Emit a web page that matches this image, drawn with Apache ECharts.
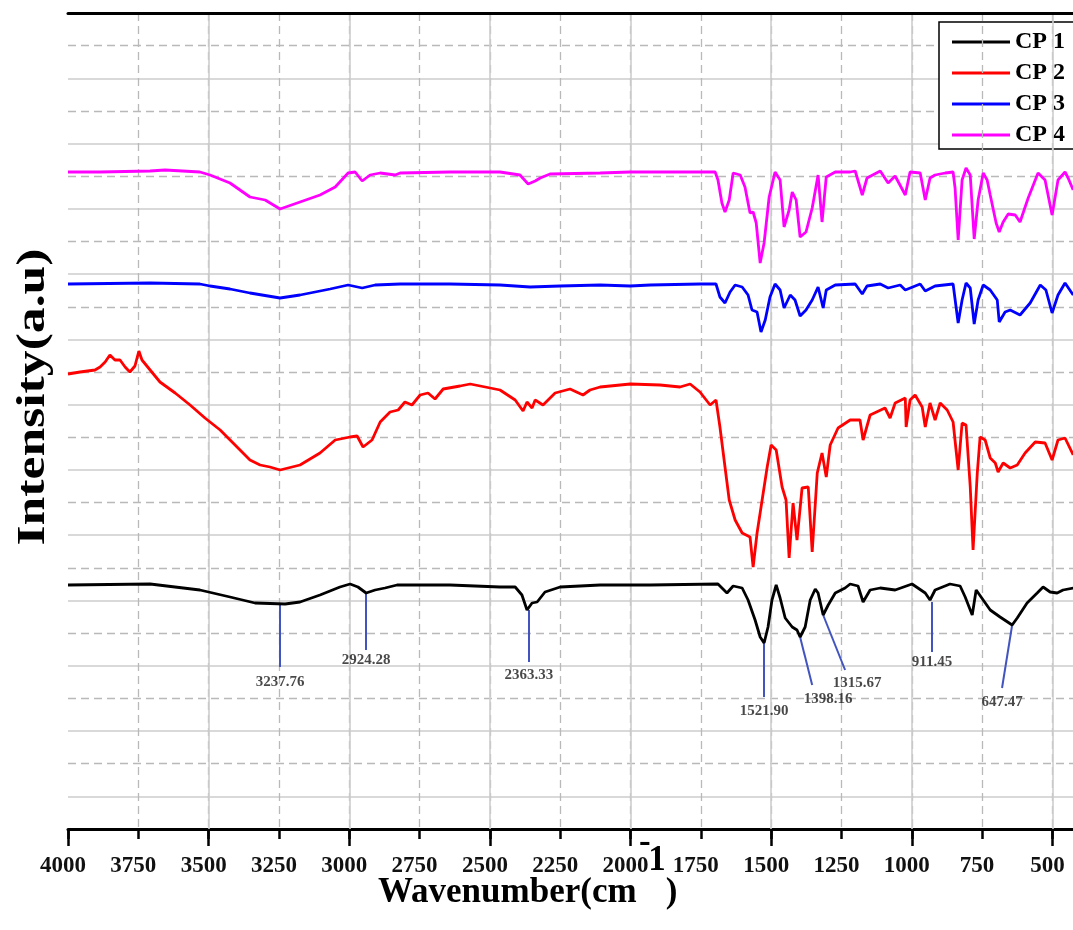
<!DOCTYPE html>
<html>
<head>
<meta charset="utf-8">
<script src="https://cdn.jsdelivr.net/npm/echarts@6/dist/echarts.min.js"></script>
<style>
  html, body { margin: 0; padding: 0; background: #fff; }
  #chart { width: 1073px; height: 930px; }
</style>
</head>
<body>
<div id="chart"></div>
<script>
// FTIR spectra of CP1..CP4, offset traces, intensity in arbitrary units.
const FONT = '"Liberation Serif", "Times New Roman", serif';

const seriesNames = ['CP 1', 'CP 2', 'CP 3', 'CP 4'];
const seriesColors = ['#000000', '#ff0000', '#0000ff', '#ff00ff'];

// [wavenumber, intensity]
const cp1 = [[4000,244],[3708,245],[3531,239],[3424,232],[3335,226],[3228,225],[3175,227],[3104,234],[3033,242],[2997,245],[2969,242],[2940,236],[2908,239],[2873,241],[2830,244],[2642,244],[2464,242],[2410,242],[2386,234],[2368,219],[2350,226],[2332,227],[2304,237],[2250,242],[2108,244],[1930,244],[1689,245],[1657,236],[1635,243],[1603,241],[1582,229],[1557,209],[1539,192],[1525,186],[1511,202],[1497,229],[1482,244],[1468,231],[1450,211],[1425,202],[1408,199],[1397,192],[1379,202],[1361,229],[1343,240],[1333,236],[1315,214],[1297,224],[1272,236],[1237,241],[1219,245],[1191,243],[1173,227],[1148,239],[1112,241],[1059,239],[999,245],[952,236],[935,229],[917,239],[864,245],[828,243],[810,232],[785,214],[771,239],[764,237],[721,219],[686,212],[643,204],[625,211],[590,226],[554,236],[533,242],[508,237],[483,236],[462,239],[426,241]];

const cp2 = [[4000,455],[3957,457],[3904,459],[3886,462],[3868,467],[3851,474],[3833,469],[3815,469],[3797,462],[3780,457],[3762,463],[3748,478],[3737,469],[3708,459],[3673,447],[3619,436],[3566,424],[3513,411],[3459,399],[3406,384],[3353,369],[3317,364],[3282,362],[3246,359],[3175,364],[3104,376],[3050,389],[2997,392],[2972,393],[2951,382],[2919,389],[2890,407],[2855,417],[2826,419],[2802,427],[2777,424],[2748,434],[2720,436],[2695,430],[2666,440],[2606,443],[2570,445],[2499,441],[2464,439],[2410,429],[2382,418],[2368,427],[2350,421],[2339,429],[2311,424],[2268,436],[2215,440],[2169,434],[2144,439],[2108,442],[2001,445],[1895,444],[1824,442],[1788,445],[1753,437],[1717,424],[1696,429],[1682,402],[1664,362],[1649,329],[1628,309],[1603,296],[1575,292],[1564,262],[1550,296],[1532,329],[1514,362],[1500,384],[1482,379],[1461,342],[1447,329],[1436,271],[1422,326],[1408,289],[1390,341],[1368,342],[1354,277],[1336,356],[1319,376],[1304,352],[1290,384],[1262,401],[1219,409],[1184,409],[1173,389],[1148,414],[1095,421],[1077,411],[1059,426],[1023,431],[1020,402],[1006,429],[988,434],[963,422],[952,402],[935,426],[917,409],[899,426],[874,419],[853,407],[835,359],[821,406],[807,404],[792,342],[782,279],[767,356],[757,392],[739,389],[721,371],[703,366],[693,357],[675,366],[650,361],[625,364],[597,376],[561,387],[526,386],[501,369],[480,389],[455,391],[426,374]];

const cp3 = [[4000,545],[3708,546],[3531,545],[3495,543],[3424,540],[3353,536],[3246,531],[3175,534],[3068,540],[3004,544],[2954,541],[2908,544],[2819,545],[2642,545],[2464,544],[2357,542],[2250,543],[2108,544],[2001,543],[1930,544],[1753,545],[1696,545],[1682,532],[1664,526],[1646,537],[1628,544],[1603,542],[1582,534],[1568,519],[1550,517],[1536,497],[1521,509],[1504,532],[1486,545],[1468,539],[1454,521],[1432,534],[1415,529],[1397,513],[1376,519],[1354,529],[1333,542],[1315,521],[1304,539],[1272,544],[1201,545],[1176,535],[1159,543],[1112,545],[1084,541],[1041,544],[1023,539],[970,545],[952,538],[917,543],[853,545],[835,506],[821,529],[807,546],[792,541],[778,505],[764,529],[746,544],[721,539],[696,529],[689,507],[668,517],[650,519],[615,514],[579,526],[543,544],[523,539],[501,516],[480,534],[455,546],[426,534]];

const cp4 = [[4000,657],[3886,657],[3708,658],[3655,659],[3531,657],[3495,654],[3424,646],[3353,632],[3299,629],[3246,620],[3175,627],[3104,634],[3050,642],[3004,656],[2979,657],[2954,648],[2926,654],[2890,656],[2837,654],[2819,656],[2642,657],[2464,657],[2393,654],[2364,645],[2339,648],[2321,651],[2286,655],[2108,656],[2001,657],[1930,657],[1753,657],[1699,657],[1689,649],[1675,626],[1664,617],[1649,629],[1635,656],[1610,654],[1593,642],[1575,616],[1564,617],[1553,606],[1539,566],[1525,586],[1507,632],[1486,657],[1468,649],[1454,602],[1436,619],[1425,637],[1411,629],[1397,592],[1376,597],[1354,621],[1333,654],[1319,607],[1304,652],[1272,657],[1219,657],[1201,658],[1176,634],[1159,651],[1112,658],[1084,646],[1059,653],[1023,634],[1006,657],[970,656],[952,629],[935,651],[917,654],[881,656],[853,657],[846,641],[835,589],[821,649],[807,661],[792,654],[778,590],[764,629],[746,656],[732,649],[721,634],[700,606],[689,597],[675,607],[657,615],[632,614],[615,607],[586,631],[551,656],[526,649],[501,614],[480,649],[455,657],[444,651],[426,639]];

// CP 1 peak annotations: leader line from the band to its label
const peakText = ['3237.76', '2924.28', '2363.33', '1521.90', '1398.16', '1315.67', '911.45', '647.47'];
const peakFrom = [[3246,225],[2940,236],[2361,219],[1525,186],[1397,192],[1315,214],[928,227],[643,204]];
const peakTo = [[3246,162],[2940,179],[2361,167],[1525,132],[1354,144],[1237,159],[928,177],[679,141]];
const peakLabelAt = [[3246,147],[2940,169],[2361,154],[1525,118],[1297,130],[1194,146],[928,167],[679,127]];

const xTicks = { min: 0, max: 4000, minor: 250, major: 500 };

const chart = echarts.init(document.getElementById('chart'));

const dashed = { color: '#b9b9b9', width: 1.3, type: [8, 5] };
const solid = { color: '#cdcdcd', width: 1.6, type: 'solid' };
const noAxis = { axisLine: { show: false }, axisTick: { show: false }, axisLabel: { show: false } };
const bold = (size) => ({ fontFamily: FONT, fontWeight: 'bold', fontSize: size, fill: '#000' });

const lineSeries = [cp1, cp2, cp3, cp4].map((d, i) => ({
  name: seriesNames[i],
  type: 'line',
  data: d,
  showSymbol: false,
  symbol: 'none',
  xAxisIndex: 0,
  yAxisIndex: 0,
  z: 10 - i,
  lineStyle: { color: seriesColors[i], width: 2.8 },
  itemStyle: { color: seriesColors[i] },
  markLine: i === 0 ? {
    silent: true,
    symbol: ['none', 'none'],
    label: { show: false },
    lineStyle: { color: '#4254bf', width: 2, type: 'solid' },
    emphasis: { disabled: true },
    data: peakFrom.map((p, k) => [{ coord: p }, { coord: peakTo[k] }]),
  } : undefined,
}));

chart.setOption({
  animation: false,
  backgroundColor: '#fff',
  grid: {
    left: 68, top: 13, bottom: 101, right: -120,
    show: false,
    outerBoundsMode: 'none',
  },
  legend: {
    data: seriesNames,
    orient: 'vertical',
    left: 939, top: 22,
    icon: 'rect',
    itemWidth: 58, itemHeight: 3, itemGap: 7,
    padding: [8, 12, 2, 13],
    backgroundColor: '#fff',
    borderColor: '#000', borderWidth: 1.5,
    textStyle: { fontFamily: FONT, fontWeight: 'bold', fontSize: 24, color: '#000', lineHeight: 24 },
  },
  xAxis: [
    {
      type: 'value', inverse: true, min: xTicks.min, max: xTicks.max, interval: xTicks.minor,
      position: 'bottom',
      axisLine: { show: true, lineStyle: { color: '#000', width: 3 } },
      axisTick: { show: true, length: 10, lineStyle: { color: '#000', width: 2.5 } },
      axisLabel: {
        margin: 26, padding: [0, 10, 0, 0],
        fontFamily: FONT, fontWeight: 'bold', fontSize: 23, color: '#111',
        formatter: (v) => (v >= 500 ? String(v) : ''),
      },
      splitLine: { show: true, showMaxLine: false, lineStyle: dashed },
      z: 5,
    },
    {
      // major grid + long ticks every 500
      type: 'value', inverse: true, min: xTicks.min, max: xTicks.max, interval: xTicks.major,
      position: 'bottom', offset: 0,
      axisLine: { show: false },
      axisTick: { show: true, length: 17, lineStyle: { color: '#000', width: 2.5 } },
      axisLabel: { show: false },
      splitLine: { show: true, showMaxLine: false, lineStyle: solid },
      z: 6,
    },
    {
      // top frame
      type: 'value', inverse: true, min: xTicks.min, max: xTicks.max, position: 'top',
      axisLine: { show: true, lineStyle: { color: '#000', width: 3 } },
      axisTick: { show: false }, axisLabel: { show: false }, splitLine: { show: false },
      z: 7,
    },
  ],
  yAxis: [
    {
      type: 'value', min: 0, max: 816, position: 'left',
      axisLine: { show: true, lineStyle: { color: '#000', width: 3 } },
      axisTick: { show: false }, axisLabel: { show: false },
      splitLine: { show: false },
      z: 7,
    },
    {
      // dashed grid counted from the bottom
      type: 'value', min: 0, max: 12.5, interval: 1, position: 'left',
      ...noAxis,
      splitLine: { show: true, showMinLine: false, showMaxLine: false, lineStyle: dashed },
    },
    {
      // solid grid counted from the top
      type: 'value', min: 0, max: 12.5, interval: 1, inverse: true, position: 'left',
      ...noAxis,
      splitLine: { show: true, showMinLine: false, showMaxLine: false, lineStyle: solid },
    },
  ],
  series: [
    ...lineSeries,
    {
      type: 'scatter',
      data: peakLabelAt,
      symbolSize: 0,
      silent: true,
      z: 12,
      label: {
        show: true, position: 'inside',
        formatter: (p) => peakText[p.dataIndex],
        fontFamily: FONT, fontWeight: 'bold', fontSize: 15, color: '#1a1a1a',
      },
    },
  ],
  graphic: [
    {
      type: 'text', x: 33, y: 397, rotation: Math.PI / 2, scaleX: 1.26, z: 100,
      style: {
        text: 'Intensity(a.u)', fill: '#000',
        font: 'bold 41px ' + FONT,
        textAlign: 'center', textVerticalAlign: 'middle',
      },
    },
    {
      type: 'text', x: 378, y: 843, z: 100,
      style: {
        text: '{a|Wavenumber(cm}{m|-}{s|1}{a|)}',
        fill: '#000', textAlign: 'left', textVerticalAlign: 'top',
        rich: {
          a: { ...bold(35), lineHeight: 100 },
          m: { ...bold(35), lineHeight: 25, verticalAlign: 'top', fill: 'rgba(0,0,0,0)' },
          s: { ...bold(35), lineHeight: 25, verticalAlign: 'top' },
        },
      },
    },
    {
      // raised minus of the superscript
      type: 'text', x: 639, y: 843, z: 101,
      style: { text: '-', fill: '#000', font: 'bold 35px ' + FONT, textAlign: 'left', textVerticalAlign: 'middle' },
    },
  ],
});

window.addEventListener('resize', () => chart.resize());
</script>
</body>
</html>
